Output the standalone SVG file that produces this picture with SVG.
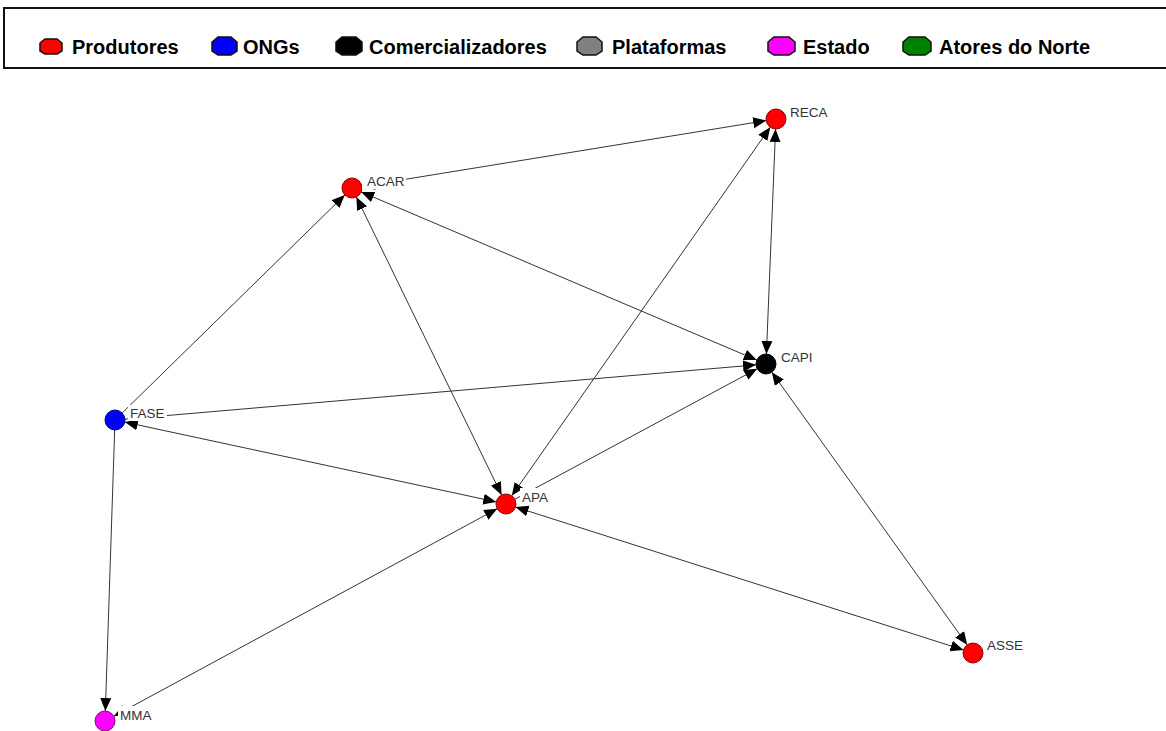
<svg xmlns="http://www.w3.org/2000/svg" width="1166" height="731" viewBox="0 0 1166 731">
<style>
.edge{stroke:#333;stroke-width:1;fill:none}
.uni{marker-end:url(#ah)}
.bi{marker-end:url(#ah);marker-start:url(#ah)}
.node{stroke-width:1}
.lbl{font-family:"Liberation Sans",Arial,sans-serif;font-size:13.5px;fill:#333}
.lbg{fill:#fff}
.leg{font-family:"Liberation Sans",Arial,sans-serif;font-size:20px;font-weight:bold;fill:#000}
.oct{stroke:#111;stroke-width:1.5}
</style>
<defs>
<marker id="ah" markerUnits="userSpaceOnUse" markerWidth="14" markerHeight="12" refX="13" refY="5.5" orient="auto-start-reverse" viewBox="0 0 14 11">
<path d="M0,0 L13,5.5 L0,11 z" fill="#000"/>
</marker>
</defs>
<rect width="1166" height="731" fill="#fff"/>
<g id="legend">
<rect x="4" y="8" width="1175" height="60" fill="#fff" stroke="#111" stroke-width="2"/>
<polygon class="oct" fill="#ff0000" points="45,39 57,39 62,43 62,51 57,54 45,54 40,51 40,43"/>
<text class="leg" x="72" y="54">Produtores</text>
<polygon class="oct" fill="#0000ff" points="218,37 231,37 237,42 237,51 231,55 218,55 212,51 212,42"/>
<text class="leg" x="243" y="54">ONGs</text>
<polygon class="oct" fill="#000000" points="342,37 356,37 362,42 362,51 356,55 342,55 336,51 336,42"/>
<text class="leg" x="369" y="54">Comercializadores</text>
<polygon class="oct" fill="#808080" points="583,37 596,37 602,42 602,51 596,55 583,55 577,51 577,42"/>
<text class="leg" x="612" y="54">Plataformas</text>
<polygon class="oct" fill="#ff00ff" points="774,37 789,37 795,42 795,51 789,55 774,55 768,51 768,42"/>
<text class="leg" x="803" y="54">Estado</text>
<polygon class="oct" fill="#008000" points="909,37 925,37 931,42 931,51 925,55 909,55 903,51 903,42"/>
<text class="leg" x="939" y="54">Atores do Norte</text>
</g>
<g id="connectors">
<line class="edge bi" x1="361.87" y1="186.39" x2="766.13" y2="120.61"/>
<line class="edge bi" x1="511.74" y1="495.81" x2="770.26" y2="127.19"/>
<line class="edge bi" x1="766.41" y1="354.01" x2="775.59" y2="128.99"/>
<line class="edge bi" x1="361.20" y1="191.91" x2="756.80" y2="360.09"/>
<line class="edge bi" x1="356.38" y1="196.99" x2="501.62" y2="495.01"/>
<line class="edge uni" x1="122.15" y1="413.00" x2="344.85" y2="195.00"/>
<line class="edge uni" x1="124.96" y1="419.14" x2="756.04" y2="364.86"/>
<line class="edge bi" x1="124.78" y1="422.10" x2="496.22" y2="501.90"/>
<line class="edge uni" x1="514.80" y1="499.26" x2="757.20" y2="368.74"/>
<line class="edge bi" x1="771.82" y1="372.13" x2="967.18" y2="644.87"/>
<line class="edge bi" x1="515.53" y1="507.04" x2="963.47" y2="649.96"/>
<line class="edge uni" x1="114.67" y1="429.99" x2="105.33" y2="711.01"/>
<line class="edge bi" x1="497.21" y1="508.76" x2="113.79" y2="716.24"/>
</g>
<g id="node-ACAR">
<circle class="node" cx="352" cy="188" r="10" fill="#ff0000" stroke="#8b0000"/>
<rect class="lbg" x="362" y="173" width="44" height="16"/>
<text class="lbl" x="367" y="186">ACAR</text>
</g>
<g id="node-RECA">
<circle class="node" cx="776" cy="119" r="10" fill="#ff0000" stroke="#8b0000"/>
<rect class="lbg" x="788" y="104" width="41" height="16"/>
<text class="lbl" x="790" y="117">RECA</text>
</g>
<g id="node-CAPI">
<circle class="node" cx="766" cy="364" r="10" fill="#000000" stroke="#000"/>
<rect class="lbg" x="779" y="349" width="33" height="16"/>
<text class="lbl" x="781" y="362">CAPI</text>
</g>
<g id="node-FASE">
<circle class="node" cx="115" cy="420" r="10" fill="#0000ff" stroke="#00008b"/>
<rect class="lbg" x="128" y="405" width="39" height="16"/>
<text class="lbl" x="130" y="418">FASE</text>
</g>
<g id="node-APA">
<circle class="node" cx="506" cy="504" r="10" fill="#ff0000" stroke="#8b0000"/>
<rect class="lbg" x="520" y="488" width="31" height="17"/>
<text class="lbl" x="522" y="502">APA</text>
</g>
<g id="node-ASSE">
<circle class="node" cx="973" cy="653" r="10" fill="#ff0000" stroke="#8b0000"/>
<rect class="lbg" x="985" y="637" width="41" height="16"/>
<text class="lbl" x="987" y="650">ASSE</text>
</g>
<g id="node-MMA">
<circle class="node" cx="105" cy="721" r="10" fill="#ff00ff" stroke="#8b008b"/>
<rect class="lbg" x="118" y="706" width="36" height="18"/>
<text class="lbl" x="120" y="720">MMA</text>
</g>
</svg>
